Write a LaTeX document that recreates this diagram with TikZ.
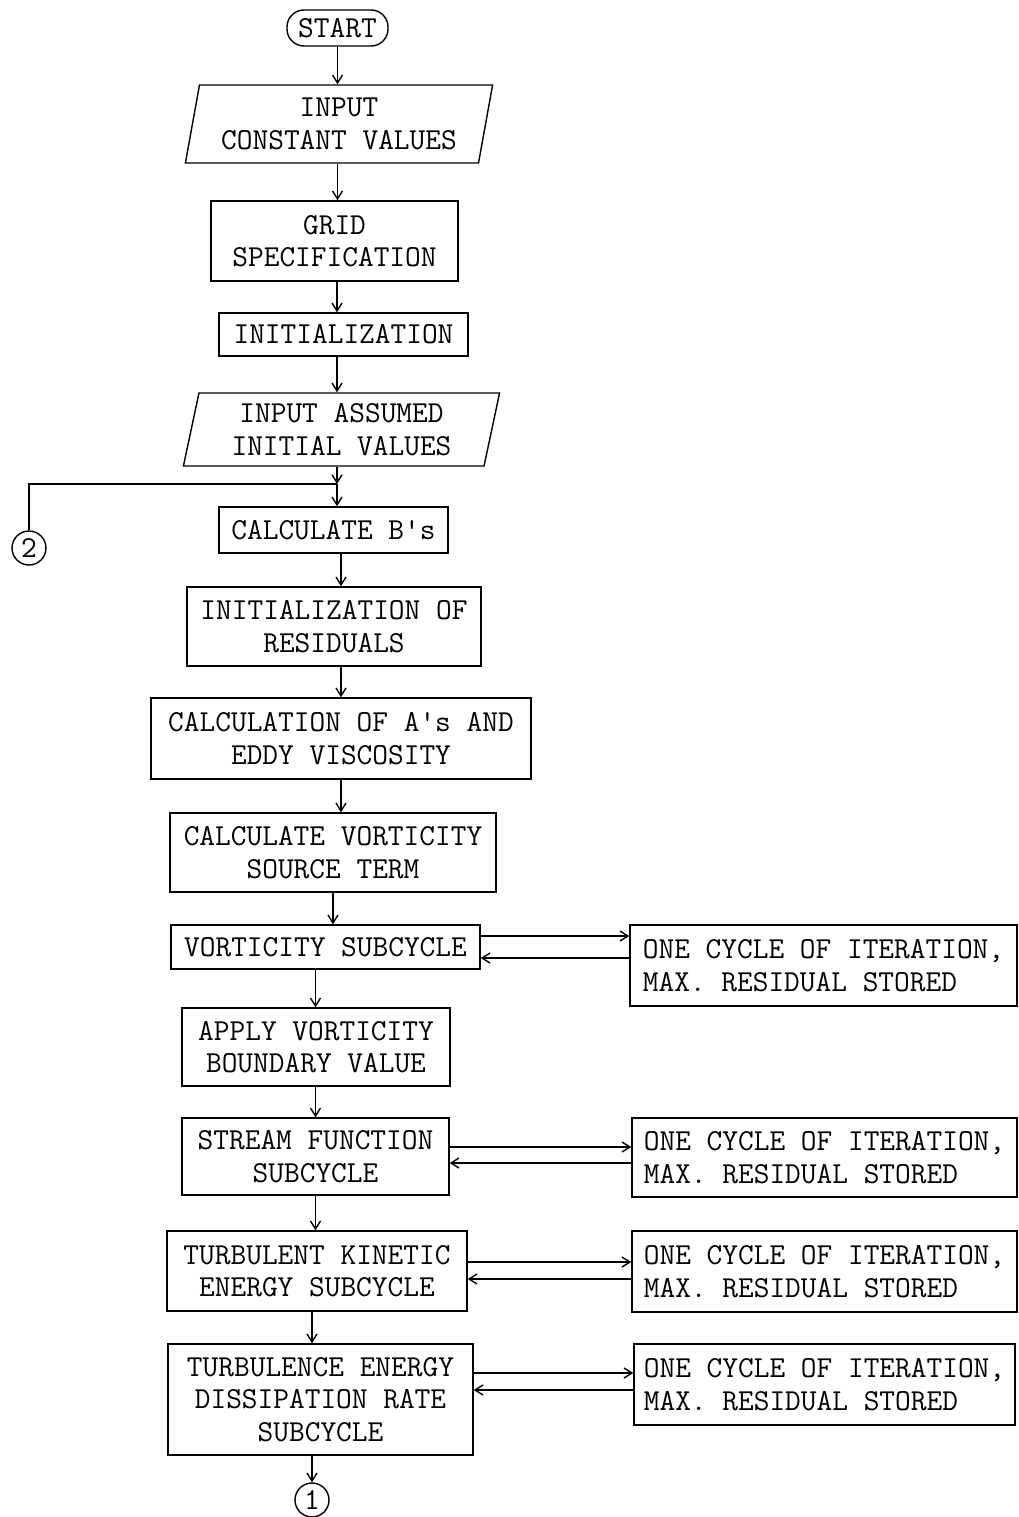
\documentclass[tikz,border=0pt]{standalone}
\usetikzlibrary{shapes.geometric,arrows.meta}

\tikzset{
  box/.style={draw, rectangle, align=center, inner sep=0pt},
  iobox/.style={draw, trapezium, trapezium left angle=77, trapezium right angle=103,
    trapezium stretches=true, align=center, inner sep=0pt},
  sidebox/.style={draw, rectangle, align=left, inner sep=0pt},
  conn/.style={draw, circle, inner sep=0pt, minimum size=34pt},
  arr/.style={-{Straight Barb[length=8pt,width=10pt]}},
}

\begin{document}
\begin{tikzpicture}[x=1pt, y=-1pt, line width=1.4pt,
    every node/.style={font=\ttfamily\fontsize{30.5}{32.5}\selectfont}]
  \useasboundingbox (0,0) rectangle (1018,1517);

  % main column
  \node[box, rounded corners=17pt, minimum width=101pt, minimum height=36pt] (start) at (337.5,28) {START};
  \node[iobox, minimum width=308pt, minimum height=78pt] (inconst) at (339,124) {INPUT\\CONSTANT VALUES};
  \node[box, minimum width=247pt, minimum height=80pt] (grid) at (334.5,241) {GRID\\SPECIFICATION};
  \node[box, minimum width=249pt, minimum height=43pt] (init) at (343.5,334.5) {INITIALIZATION};
  \node[iobox, minimum width=317pt, minimum height=73pt] (inassum) at (341.5,429.5) {INPUT ASSUMED\\INITIAL VALUES};
  \node[box, minimum width=229pt, minimum height=46pt] (calcb) at (333.5,530) {CALCULATE B's};
  \node[box, minimum width=294pt, minimum height=79pt] (initres) at (334,626.5) {INITIALIZATION OF\\RESIDUALS};
  \node[box, minimum width=380pt, minimum height=81pt] (calca) at (341,738.5) {CALCULATION OF A's AND\\EDDY VISCOSITY};
  \node[box, minimum width=326pt, minimum height=79pt] (source) at (333,852.5) {CALCULATE VORTICITY\\SOURCE TERM};
  \node[box, minimum width=309pt, minimum height=44pt] (vortsub) at (325.5,947) {VORTICITY SUBCYCLE};
  \node[box, minimum width=268pt, minimum height=78pt] (apply) at (316,1047) {APPLY VORTICITY\\BOUNDARY VALUE};
  \node[box, minimum width=267pt, minimum height=77pt] (stream) at (315.5,1156.5) {STREAM FUNCTION\\SUBCYCLE};
  \node[box, minimum width=300pt, minimum height=80pt] (tke) at (317,1271) {TURBULENT KINETIC\\ENERGY SUBCYCLE};
  \node[box, minimum width=305pt, minimum height=111pt] (diss) at (320.5,1399.5) {TURBULENCE ENERGY\\DISSIPATION RATE\\SUBCYCLE};
  \node[conn] (endc) at (312,1500) {1};

  % side boxes
  \node[sidebox, minimum width=387pt, minimum height=81pt] (side1) at (823.5,965.5) {ONE CYCLE OF ITERATION,\\MAX. RESIDUAL STORED};
  \node[sidebox, minimum width=385pt, minimum height=79pt] (side2) at (824.5,1157.5) {ONE CYCLE OF ITERATION,\\MAX. RESIDUAL STORED};
  \node[sidebox, minimum width=385pt, minimum height=81pt] (side3) at (824.5,1271.5) {ONE CYCLE OF ITERATION,\\MAX. RESIDUAL STORED};
  \node[sidebox, minimum width=381pt, minimum height=81pt] (side4) at (824.5,1384.5) {ONE CYCLE OF ITERATION,\\MAX. RESIDUAL STORED};

  % return connector
  \node[conn] (backc) at (29,548) {2};
  \coordinate (join) at (337,484);

  % vertical flow
  \draw[arr] (start.south) -- (start.south |- inconst.north);
  \draw[arr] (inconst.south -| start) -- (start |- grid.north);
  \draw[arr] (grid.south -| join) -- (join |- init.north);
  \draw[arr] (init.south -| join) -- (join |- inassum.north);
  \draw[arr] (inassum.south -| join) -- (join);
  \draw[arr] (join) -- (join |- calcb.north);
  \draw (backc.north) |- (join);
  \draw[arr] (calcb.south -| calca) -- (calca |- initres.north);
  \draw[arr] (initres.south -| calca) -- (calca.north);
  \draw[arr] (calca.south) -- (calca.south |- source.north);
  \draw[arr] (source.south) -- (source.south |- vortsub.north);
  \draw[arr] (vortsub.south -| stream) -- (stream |- apply.north);
  \draw[arr] (apply.south -| stream) -- (stream.north);
  \draw[arr] (stream.south) -- (stream.south |- tke.north);
  \draw[arr] (tke.south -| endc) -- (endc |- diss.north);
  \draw[arr] (diss.south -| endc) -- (endc.north);

  % subcycle loops
  \draw[arr] ([yshift=11pt]vortsub.east) -- ([yshift=11pt]vortsub.east -| side1.west);
  \draw[arr] ([yshift=-11pt]vortsub.east -| side1.west) -- ([yshift=-11pt]vortsub.east);
  \draw[arr] ([yshift=9.5pt]stream.east) -- ([yshift=9.5pt]stream.east -| side2.west);
  \draw[arr] ([yshift=-6.5pt]stream.east -| side2.west) -- ([yshift=-6.5pt]stream.east);
  \draw[arr] ([yshift=9pt]tke.east) -- ([yshift=9pt]tke.east -| side3.west);
  \draw[arr] ([yshift=-8pt]tke.east -| side3.west) -- ([yshift=-8pt]tke.east);
  \draw[arr] ([yshift=26.5pt]diss.east) -- ([yshift=26.5pt]diss.east -| side4.west);
  \draw[arr] ([yshift=9.5pt]diss.east -| side4.west) -- ([yshift=9.5pt]diss.east);
\end{tikzpicture}
\end{document}
